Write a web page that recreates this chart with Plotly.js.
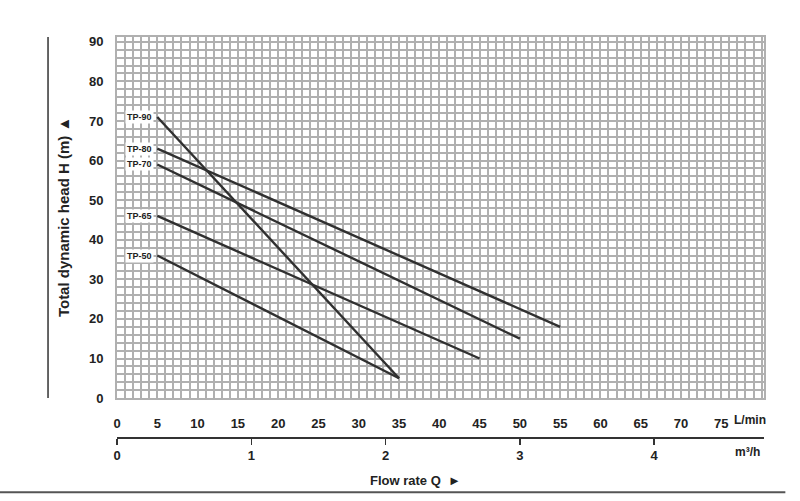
<!DOCTYPE html>
<html>
<head>
<meta charset="utf-8">
<script src="https://cdn.plot.ly/plotly-3.0.1.min.js"></script>
<style>
  html, body { margin: 0; padding: 0; background: #fff; }
  #chart { width: 800px; height: 501px; }
</style>
</head>
<body>
<div id="chart"></div>
<script>
// Pump curves: flow Q (L/min) vs head H (m)
const seriesNames = ['TP-90', 'TP-80', 'TP-70', 'TP-65', 'TP-50'];
const flowTP90 = [5, 35],  headTP90 = [71, 5];
const flowTP80 = [5, 55],  headTP80 = [63, 18];
const flowTP70 = [5, 50],  headTP70 = [59, 15];
const flowTP65 = [5, 45],  headTP65 = [46, 10];
const flowTP50 = [5, 35],  headTP50 = [36, 5];

const flows = [flowTP90, flowTP80, flowTP70, flowTP65, flowTP50];
const heads = [headTP90, headTP80, headTP70, headTP65, headTP50];

// tick values for the two flow scales and the head scale
const lminTicks = [0, 5, 10, 15, 20, 25, 30, 35, 40, 45, 50, 55, 60, 65, 70, 75];
const m3hTicks = [0, 1, 2, 3, 4];
const headTicks = [0, 10, 20, 30, 40, 50, 60, 70, 80, 90];
const LMIN_PER_M3H = 1000 / 60;

const FONT = '"Liberation Sans", Arial, sans-serif';
const INK = '#222';
const GRID = '#b0b0b0';

const traces = flows.map((q, i) => ({
    x: q,
    y: heads[i],
    type: 'scatter',
    mode: 'lines',
    name: seriesNames[i],
    line: { color: '#303030', width: 2.4 },
    hoverinfo: 'skip'
}));

// empty trace so the m3/h axis gets drawn
traces.push({
    x: m3hTicks,
    y: m3hTicks.map(() => null),
    xaxis: 'x2',
    yaxis: 'y',
    type: 'scatter',
    mode: 'lines',
    showlegend: false,
    hoverinfo: 'skip'
});

// curve name labels at the start of each line
const labels = seriesNames.map((name, i) => ({
    x: flows[i][0],
    y: heads[i][0],
    xref: 'x',
    yref: 'y',
    text: '<b>' + name + '</b>',
    showarrow: false,
    xanchor: 'right',
    yanchor: 'middle',
    xshift: -3,
    bgcolor: '#fff',
    borderpad: 1,
    font: { family: FONT, size: 9, color: INK }
}));

const xMax = 80.3;
const plotBottom = 0.168;  // y domain start (paper)

const tickFont = { family: FONT, size: 13, color: INK, weight: 'bold' };

const layout = {
    width: 800,
    height: 501,
    margin: { l: 117, r: 36, t: 37, b: 30 },
    paper_bgcolor: '#fff',
    plot_bgcolor: '#fff',
    showlegend: false,
    font: { family: FONT, color: INK },
    xaxis: {
        range: [0, xMax],
        tickvals: lminTicks,
        showgrid: true,
        gridcolor: GRID,
        gridwidth: 2,
        minor: { dtick: 1, showgrid: true, gridcolor: GRID, gridwidth: 2 },
        zeroline: false,
        showline: true,
        mirror: true,
        linecolor: GRID,
        linewidth: 2,
        ticks: '',
        ticklabelstandoff: 12,
        tickfont: tickFont
    },
    xaxis2: {
        range: [0, xMax / LMIN_PER_M3H],
        overlaying: 'x',
        anchor: 'free',
        position: 0.078,
        side: 'bottom',
        tickvals: m3hTicks,
        showgrid: false,
        zeroline: false,
        showline: true,
        linecolor: '#333',
        linewidth: 1.5,
        ticks: 'outside',
        ticklen: 6,
        tickcolor: '#333',
        tickwidth: 1.5,
        tickfont: tickFont
    },
    yaxis: {
        domain: [plotBottom, 1],
        range: [0, 91.2],
        tickvals: headTicks,
        showgrid: true,
        gridcolor: GRID,
        gridwidth: 2,
        minor: { dtick: 2, showgrid: true, gridcolor: GRID, gridwidth: 2 },
        zeroline: false,
        showline: true,
        mirror: true,
        linecolor: GRID,
        linewidth: 2,
        ticks: '',
        ticklabelstandoff: 9,
        tickfont: tickFont
    },
    shapes: [
        // vertical rule left of the y title
        { type: 'line', xref: 'paper', yref: 'paper', x0: -0.1066, x1: -0.1066, y0: plotBottom, y1: 1,
          line: { color: '#333', width: 1.5 } },
        // bottom rule under the x title
        { type: 'line', xref: 'paper', yref: 'paper', x0: -0.181, x1: 1.033, y0: -0.049, y1: -0.049,
          line: { color: '#555', width: 2 } }
    ],
    annotations: labels.concat([
        {
            xref: 'paper', yref: 'paper', x: -0.0835, y: 0.585,
            xanchor: 'center', yanchor: 'middle',
            text: '<b>Total dynamic head H (m) ▲</b>',
            textangle: -90, showarrow: false,
            font: { family: FONT, size: 15, color: INK }
        },
        {
            xref: 'paper', yref: 'paper', x: 0.4606, y: -0.021,
            xanchor: 'center', yanchor: 'middle',
            text: '<b>Flow rate Q  ►</b>',
            showarrow: false,
            font: { family: FONT, size: 13, color: INK }
        },
        {
            xref: 'paper', yref: 'paper', x: 0.951, y: 0.1175,
            xanchor: 'left', yanchor: 'middle',
            text: '<b>L/min</b>',
            showarrow: false,
            font: { family: FONT, size: 12, color: INK }
        },
        {
            xref: 'paper', yref: 'paper', x: 0.975, y: 0.044,
            xanchor: 'center', yanchor: 'middle',
            text: '<b>m³/h</b>',
            showarrow: false,
            font: { family: FONT, size: 12, color: INK }
        }
    ])
};

Plotly.newPlot('chart', traces, layout, { staticPlot: true, displayModeBar: false });
</script>
</body>
</html>
